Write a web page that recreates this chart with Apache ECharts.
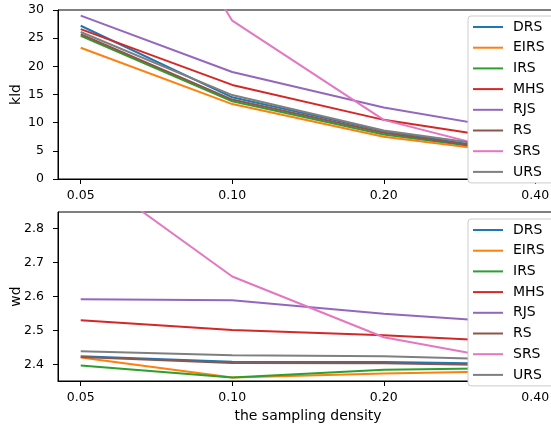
<!DOCTYPE html>
<html>
<head>
<meta charset="utf-8">
<script src="https://cdn.jsdelivr.net/npm/echarts@6/dist/echarts.min.js"></script>
<style>
  html, body { margin: 0; padding: 0; background: #fff; }
  #chart { width: 551px; height: 426px; }
</style>
</head>
<body>
<div id="chart"></div>
<script>
// sampling densities on the x axis
const densities = ['0.05', '0.10', '0.20', '0.40'];
const methods = ['DRS', 'EIRS', 'IRS', 'MHS', 'RJS', 'RS', 'SRS', 'URS'];
const colors = ['#1f77b4', '#ff7f0e', '#2ca02c', '#d62728', '#9467bd', '#8c564b', '#e377c2', '#7f7f7f'];

// kld (top panel)
const kldDRS  = [27.2, 14.5, 8.5, 4.4];
const kldEIRS = [23.3, 13.3, 7.5, 4.15];
const kldIRS  = [25.4, 13.8, 7.9, 4.4];
const kldMHS  = [26.6, 16.7, 10.5, 6.4];
const kldRJS  = [29.0, 19.0, 12.7, 8.1];
const kldRS   = [25.7, 14.1, 8.2, 4.3];
const kldSRS  = [72.0, 28.1, 10.5, 3.6];
const kldURS  = [26.1, 14.9, 8.6, 4.9];

// wd (bottom panel)
const wdDRS  = [2.424, 2.408, 2.407, 2.400];
const wdEIRS = [2.420, 2.361, 2.373, 2.381];
const wdIRS  = [2.397, 2.361, 2.384, 2.390];
const wdMHS  = [2.530, 2.501, 2.486, 2.464];
const wdRJS  = [2.592, 2.589, 2.549, 2.519];
const wdRS   = [2.422, 2.404, 2.403, 2.396];
const wdSRS  = [2.981, 2.659, 2.480, 2.398];
const wdURS  = [2.439, 2.427, 2.424, 2.412];

const kldTicks = [0, 5, 10, 15, 20, 25, 30];
const wdTicks = [2.4, 2.5, 2.6, 2.7, 2.8];

const kldData = [kldDRS, kldEIRS, kldIRS, kldMHS, kldRJS, kldRS, kldSRS, kldURS];
const wdData = [wdDRS, wdEIRS, wdIRS, wdMHS, wdRJS, wdRS, wdSRS, wdURS];

const font = 'DejaVu Sans';
const black = '#000';

const xAxis = (g, name) => ({
    type: 'value',
    gridIndex: g,
    min: -0.15,
    max: 3.15,
    name: name,
    nameLocation: 'middle',
    nameGap: 28,
    nameMoveOverlap: false,
    nameTextStyle: { fontFamily: font, fontSize: 14, color: black },
    axisLine: { onZero: false, lineStyle: { color: black, width: 1 } },
    axisTick: { customValues: [0, 1, 2, 3], length: 5, lineStyle: { color: black } },
    axisLabel: {
        customValues: [0, 1, 2, 3],
        formatter: (v) => densities[v],
        margin: 10,
        fontFamily: font, fontSize: 12.5, color: black
    },
    splitLine: { show: false }
});

const yAxis = (g, name, min, max, ticks, digits) => ({
    type: 'value',
    gridIndex: g,
    min: min,
    max: max,
    name: name,
    nameLocation: 'middle',
    nameGap: 35,
    nameMoveOverlap: false,
    nameTextStyle: { fontFamily: font, fontSize: 14, color: black },
    axisLine: { show: true, onZero: false, lineStyle: { color: black, width: 1 } },
    axisTick: { show: true, customValues: ticks, length: 5, lineStyle: { color: black } },
    axisLabel: {
        customValues: ticks,
        formatter: (v) => v.toFixed(digits),
        margin: 14,
        fontFamily: font, fontSize: 12.5, color: black
    },
    splitLine: { show: false }
});

const legend = (top) => ({
    orient: 'vertical',
    left: 468,
    top: top,
    padding: [3, 30, 3, 5],
    backgroundColor: '#fff',
    borderColor: '#cccccc',
    borderWidth: 1,
    borderRadius: 3,
    icon: 'rect',
    itemWidth: 30,
    itemHeight: 2,
    itemGap: 4.7,
    textStyle: { fontFamily: font, fontSize: 14, color: black, lineHeight: 16, padding: [0, 0, 0, 5] },
    data: methods
});

const series = [];
methods.forEach((m, i) => {
    [kldData, wdData].forEach((arr, g) => {
        series.push({
            name: m,
            type: 'line',
            xAxisIndex: g,
            yAxisIndex: g,
            data: arr[i].map((v, k) => [k, v]),
            color: colors[i],
            showSymbol: false,
            symbol: 'none',
            lineStyle: { width: 2 },
            clip: true,
            animation: false
        });
    });
});

const chart = echarts.init(document.getElementById('chart'));
chart.setOption({
    animation: false,
    grid: [
        { left: 58, top: 10, width: 500, height: 169, show: true, borderColor: black, borderWidth: 1, outerBoundsMode: 'none' },
        { left: 58, top: 212, width: 500, height: 169, show: true, borderColor: black, borderWidth: 1, outerBoundsMode: 'none' }
    ],
    xAxis: [xAxis(0, ''), xAxis(1, 'the sampling density')],
    yAxis: [
        yAxis(0, 'kld', 0, 30, kldTicks, 0),
        yAxis(1, 'wd', 2.351, 2.849, wdTicks, 1)
    ],
    legend: [legend(16), legend(219)],
    series: series
});
</script>
</body>
</html>
